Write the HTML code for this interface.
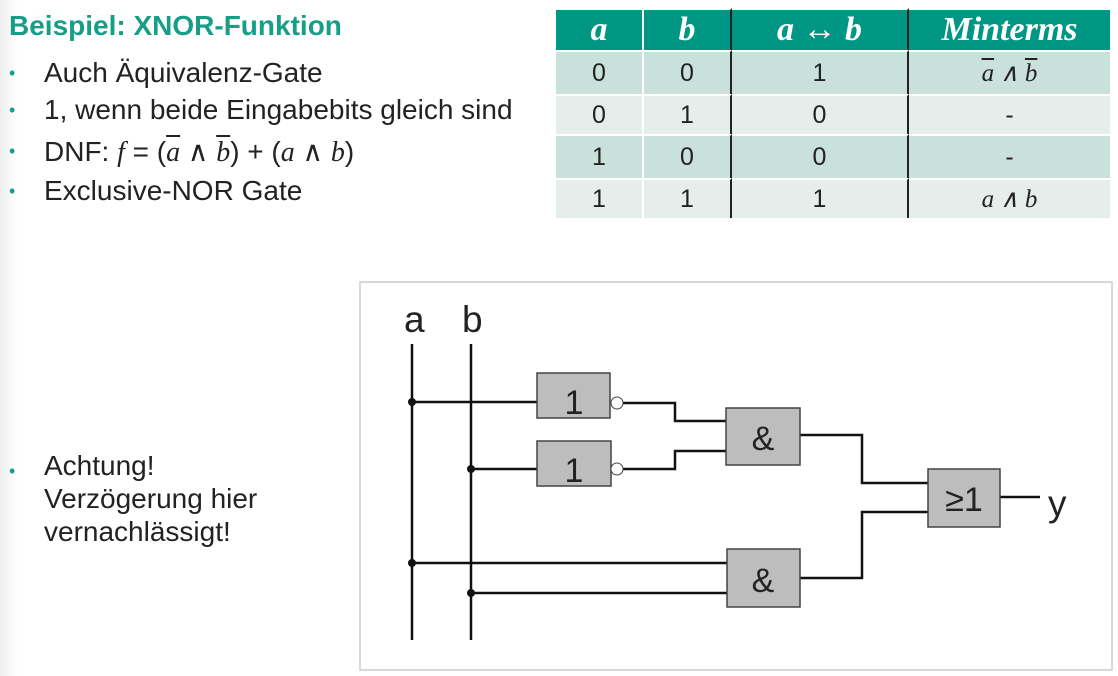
<!DOCTYPE html>
<html><head><meta charset="utf-8"><style>
body{margin:0;width:1118px;height:676px;overflow:hidden;background:#fff;font-family:"Liberation Sans",sans-serif;position:relative}
.bg{position:absolute;left:0;top:0;width:18px;height:676px;background:linear-gradient(90deg,#eee,#fff)}
h1{position:absolute;left:9px;top:10px;margin:0;font-size:28px;color:#179e87;font-weight:bold}
.b{position:absolute;left:9px;font-size:28px;color:#222}
.b span.dot{color:#179e87;font-size:18px;position:absolute;left:0;top:6px}
.b .tx{position:absolute;left:35px;white-space:nowrap}
.m{font-family:"Liberation Serif",serif;font-style:italic}
table{position:absolute;left:556px;top:8px;border-collapse:separate;border-spacing:0;width:556px}
td,th{text-align:center;font-size:25px;color:#222;padding:0}
th{background:#009684;color:#fff;font-family:"Liberation Serif",serif;font-style:italic;font-size:34px;height:40px;font-weight:bold}
tr.r1 td{background:#c9e0db;height:42px}
tr.r2 td{background:#e6eeeb;height:38px}
td,th{border-right:2px solid #fff;border-top:2px solid #fff}
.c2{border-right:2px solid #222 !important}
.c3{border-right:2px solid #222 !important}
</style></head><body>
<div class="bg"></div>
<h1>Beispiel: XNOR-Funktion</h1>
<div class="b" style="top:57px"><span class="dot">•</span><span class="tx">Auch Äquivalenz-Gate</span></div>
<div class="b" style="top:94px"><span class="dot">•</span><span class="tx">1, wenn beide Eingabebits gleich sind</span></div>
<div class="b" style="top:135px"><span class="dot">•</span><span class="tx">DNF: <span class="m">f</span> = (<span class="m" style="text-decoration:overline">a</span> ∧ <span class="m" style="text-decoration:overline">b</span>) + (<span class="m">a</span> ∧ <span class="m">b</span>)</span></div>
<div class="b" style="top:175px"><span class="dot">•</span><span class="tx">Exclusive-NOR Gate</span></div>
<div class="b" style="top:449px;line-height:33px"><span class="dot">•</span><span class="tx">Achtung!<br>Verzögerung hier<br>vernachlässigt!</span></div>

<table>
<tr><th style="width:86px">a</th><th style="width:86px" class="c2">b</th><th style="width:175px" class="c3">a ↔ b</th><th>Minterms</th></tr>
<tr class="r1"><td>0</td><td class="c2">0</td><td class="c3">1</td><td class="m"><span style="text-decoration:overline">a</span> ∧ <span style="text-decoration:overline">b</span></td></tr>
<tr class="r2"><td>0</td><td class="c2">1</td><td class="c3">0</td><td>-</td></tr>
<tr class="r1"><td>1</td><td class="c2">0</td><td class="c3">0</td><td>-</td></tr>
<tr class="r2"><td>1</td><td class="c2">1</td><td class="c3">1</td><td class="m">a ∧ b</td></tr>
</table>

<svg style="position:absolute;left:0;top:0" width="1118" height="676">
<rect x="360" y="282" width="752" height="388" fill="#fff" stroke="#ccc" stroke-width="1.5"/>
<g font-family="Liberation Sans,sans-serif" font-size="37" fill="#222">
<text x="404" y="332">a</text><text x="462" y="332">b</text>
<text x="1048" y="516">y</text></g>
<g stroke="#111" stroke-width="2.5" fill="none">
<line x1="412" y1="344" x2="412" y2="640"/><line x1="471" y1="344" x2="471" y2="640"/>
<line x1="412" y1="402" x2="537" y2="402"/><line x1="471" y1="469" x2="537" y2="469"/>
<polyline points="623,403 675,403 675,421 726,421"/>
<polyline points="623,469 675,469 675,451 726,451"/>
<line x1="412" y1="563" x2="727" y2="563"/><line x1="471" y1="593" x2="727" y2="593"/>
<polyline points="800,435 862,435 862,483 928,483"/>
<polyline points="800,578 862,578 862,512 928,512"/>
<line x1="1000" y1="497" x2="1040" y2="497"/>
</g>
<g fill="#111"><circle cx="412" cy="402" r="4"/><circle cx="471" cy="469" r="4"/><circle cx="412" cy="563" r="4"/><circle cx="471" cy="593" r="4"/></g>
<g fill="#bdbdbd" stroke="#444" stroke-width="1.5">
<rect x="537" y="373" width="73" height="45"/>
<rect x="537" y="441" width="74" height="45"/>
<rect x="726" y="408" width="74" height="57"/>
<rect x="727" y="549" width="73" height="58"/>
<rect x="928" y="469" width="72" height="58"/>
</g>
<g fill="#fff" stroke="#444" stroke-width="1"><circle cx="617" cy="403" r="6"/><circle cx="617" cy="469" r="6"/></g>
<g font-family="Liberation Sans,sans-serif" font-size="34" fill="#222" text-anchor="middle">
<text x="574" y="414">1</text><text x="574" y="482">1</text>
<text x="763" y="450">&amp;</text><text x="763" y="592">&amp;</text>
<text x="964" y="511">≥1</text></g>
</svg>
</body></html>
